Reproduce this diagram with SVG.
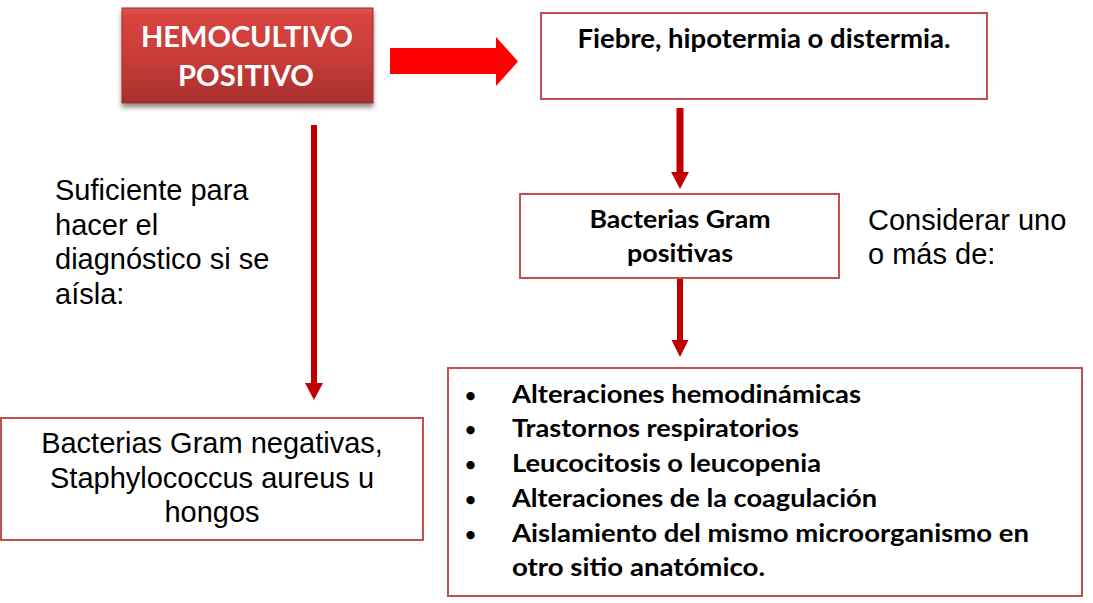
<svg xmlns="http://www.w3.org/2000/svg" width="1093" height="603" viewBox="0 0 1093 603">
<style>
.box{fill:#fff;stroke:#C0504D;stroke-width:2}
.reg{font-family:"Liberation Sans",Arial,sans-serif;font-size:29px;fill:#000}
.bold{font-family:Lato,"Open Sans",sans-serif;font-weight:bold;fill:#000}
.arr{fill:#C00000}
.hdr{font-family:Lato,"Open Sans",sans-serif;font-weight:bold;font-size:28.5px;fill:#fff}
</style>
<defs>
<linearGradient id="redg" x1="0" y1="0" x2="0" y2="1">
<stop offset="0" stop-color="#E0524F"/>
<stop offset="0.08" stop-color="#D9443F"/>
<stop offset="0.55" stop-color="#C63C39"/>
<stop offset="1" stop-color="#A82F2C"/>
</linearGradient>
<filter id="sh" x="-10%" y="-10%" width="125%" height="135%">
<feGaussianBlur in="SourceAlpha" stdDeviation="2.5"/>
<feOffset dx="0" dy="4" result="b"/>
<feComponentTransfer><feFuncA type="linear" slope="0.45"/></feComponentTransfer>
<feMerge><feMergeNode/><feMergeNode in="SourceGraphic"/></feMerge>
</filter>
</defs>
<rect width="1093" height="603" fill="#fff"/>

<g id="hemocultivo">
<rect x="122" y="8" width="251" height="95" fill="url(#redg)" stroke="#9E2B28" stroke-width="1" filter="url(#sh)"/>
<text class="hdr" x="247" y="47" text-anchor="middle" textLength="212" lengthAdjust="spacingAndGlyphs">HEMOCULTIVO</text>
<text class="hdr" x="246" y="86" text-anchor="middle" textLength="136" lengthAdjust="spacingAndGlyphs">POSITIVO</text>
</g>

<g id="fiebre">
<rect class="box" x="541" y="13" width="446" height="86"/>
<text class="bold" x="764" y="48" font-size="26.5" text-anchor="middle" textLength="373" lengthAdjust="spacingAndGlyphs">Fiebre, hipotermia o distermia.</text>
</g>

<g id="gram-pos">
<rect class="box" x="520" y="194" width="319" height="84"/>
<text class="bold" x="680" y="228" font-size="24.5" text-anchor="middle" textLength="181" lengthAdjust="spacingAndGlyphs">Bacterias Gram</text>
<text class="bold" x="680" y="262" font-size="24.5" text-anchor="middle" textLength="106" lengthAdjust="spacingAndGlyphs">positivas</text>
</g>

<g id="considerar">
<text class="reg" x="868" y="230">Considerar uno</text>
<text class="reg" x="868" y="264">o más de:</text>
</g>

<g id="suficiente">
<text class="reg" x="55" y="200">Suficiente para</text>
<text class="reg" x="55" y="235">hacer el</text>
<text class="reg" x="55" y="269">diagnóstico si se</text>
<text class="reg" x="55" y="304">aísla:</text>
</g>

<g id="gram-neg">
<rect class="box" x="1" y="418" width="422" height="122"/>
<text class="reg" x="212" y="453" text-anchor="middle">Bacterias Gram negativas,</text>
<text class="reg" x="212" y="488" text-anchor="middle">Staphylococcus aureus u</text>
<text class="reg" x="212" y="522" text-anchor="middle">hongos</text>
</g>

<g id="criterios">
<rect class="box" x="448" y="368" width="634" height="228"/>
<g class="bold" font-size="19">
<text x="465" y="402">•</text>
<text x="465" y="436">•</text>
<text x="465" y="471">•</text>
<text x="465" y="506">•</text>
<text x="465" y="541">•</text>
</g>
<g class="bold" font-size="24">
<text x="512" y="403" textLength="349" lengthAdjust="spacingAndGlyphs">Alteraciones hemodinámicas</text>
<text x="512" y="437" textLength="287" lengthAdjust="spacingAndGlyphs">Trastornos respiratorios</text>
<text x="512" y="472" textLength="309" lengthAdjust="spacingAndGlyphs">Leucocitosis o leucopenia</text>
<text x="512" y="507" textLength="365" lengthAdjust="spacingAndGlyphs">Alteraciones de la coagulación</text>
<text x="512" y="542" textLength="517" lengthAdjust="spacingAndGlyphs">Aislamiento del mismo microorganismo en</text>
<text x="512" y="576" textLength="253" lengthAdjust="spacingAndGlyphs">otro sitio anatómico.</text>
</g>
</g>

<g id="connectors">
<polygon fill="#FF0000" points="390,48 496,48 496,37 518,61.5 496,86 496,74 390,74"/>
<polygon class="arr" points="311,125 317,125 317,383 323,383 314,400 305,383 311,383"/>
<polygon class="arr" points="676.5,108 683.5,108 683.5,172 689,172 680,189 671,172 676.5,172"/>
<polygon class="arr" points="677,279 683,279 683,340 688.5,340 680,357 671.5,340 677,340"/>
</g>
</svg>
